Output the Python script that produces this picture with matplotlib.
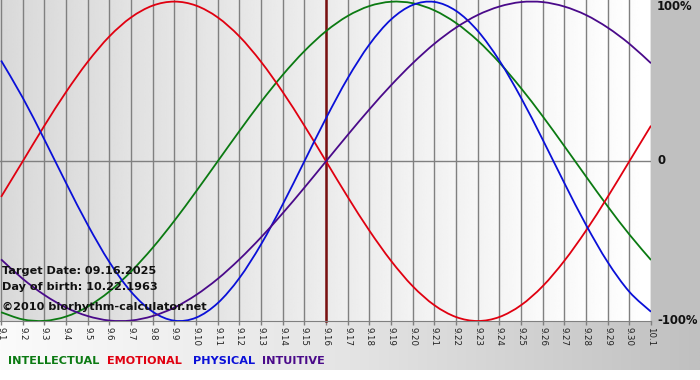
import numpy as np
import matplotlib
matplotlib.use("Agg")
import matplotlib.pyplot as plt
from matplotlib.colors import LinearSegmentedColormap
from matplotlib.path import Path
from matplotlib.patches import PathPatch

# ---- data ----
dates = ["9.1", "9.2", "9.3", "9.4", "9.5", "9.6", "9.7", "9.8", "9.9", "9.10",
         "9.11", "9.12", "9.13", "9.14", "9.15", "9.16", "9.17", "9.18", "9.19", "9.20",
         "9.21", "9.22", "9.23", "9.24", "9.25", "9.26", "9.27", "9.28", "9.29", "9.30", "10.1"]

intellectual = [-0.945, -0.990, -0.999, -0.972, -0.910, -0.815, -0.690, -0.541, -0.372, -0.189,
                0.000, 0.189, 0.372, 0.541, 0.690, 0.815, 0.910, 0.972, 0.999, 0.990,
                0.945, 0.866, 0.756, 0.618, 0.458, 0.282, 0.095, -0.095, -0.282, -0.458, -0.618]

emotional = [-0.223, 0.000, 0.223, 0.434, 0.623, 0.782, 0.901, 0.975, 1.000, 0.975,
             0.901, 0.782, 0.623, 0.434, 0.223, 0.000, -0.223, -0.434, -0.623, -0.782,
             -0.901, -0.975, -1.000, -0.975, -0.901, -0.782, -0.623, -0.434, -0.223, 0.000, 0.223]

physical = [0.631, 0.398, 0.136, -0.136, -0.398, -0.631, -0.817, -0.942, -0.998, -0.979,
            -0.888, -0.731, -0.520, -0.270, 0.000, 0.270, 0.520, 0.731, 0.888, 0.979,
            0.998, 0.942, 0.817, 0.631, 0.398, 0.136, -0.136, -0.398, -0.631, -0.817, -0.942]

intuitive = [-0.614, -0.736, -0.837, -0.916, -0.969, -0.997, -0.997, -0.969, -0.916, -0.837,
             -0.736, -0.614, -0.476, -0.325, -0.165, 0.000, 0.165, 0.325, 0.476, 0.614,
             0.736, 0.837, 0.916, 0.969, 0.997, 0.997, 0.969, 0.916, 0.837, 0.736, 0.614]

target_index = 15  # 9.16
series_names = ["INTELLECTUAL", "EMOTIONAL", "PHYSICAL", "INTUITIVE"]
series_colors = ["#0b7a12", "#e00010", "#0a10d8", "#4a0a8a"]
y_labels = ["100%", "0", "-100%"]


def smooth_path(xv, yv):
    """Catmull-Rom curve through the data points, as cubic Bezier segments."""
    pts = np.column_stack([xv, yv]).astype(float)
    ext = np.vstack([pts[0], pts, pts[-1]])
    verts = [pts[0]]
    codes = [Path.MOVETO]
    for i in range(1, len(ext) - 2):
        p0, p1, p2, p3 = ext[i - 1], ext[i], ext[i + 1], ext[i + 2]
        c1 = p1 + (p2 - p0) / 6.0
        c2 = p2 - (p3 - p1) / 6.0
        verts += [c1, c2, p2]
        codes += [Path.CURVE4] * 3
    return Path(verts, codes)


W, H = 700, 380
fig = plt.figure(figsize=(W / 100, H / 100), dpi=100)
fig.patch.set_facecolor("white")

# background panel (gradient, figure-level)
bg = fig.add_axes([0, 0, 1, 1])
bg.set_xlim(0, W)
bg.set_ylim(H, 0)
bg.axis("off")
grad = np.linspace(0, 1, 256)[None, :]
cm_bottom = LinearSegmentedColormap.from_list("b", ["#fbfbfb", "#e4e4e4", "#c0c0c0"])
bg.imshow(grad, cmap=cm_bottom, extent=[0, W, 370, 321], aspect="auto", zorder=0)
bg.add_patch(plt.Rectangle((651, 0), W - 651, 321, color="#c0c0c0", zorder=1))

# main plot axes
left, right, top, bottom = 0, 651, 0, 321
ax = fig.add_axes([left / W, (H - bottom) / H, (right - left) / W, (bottom - top) / H])
n = len(dates)
x = np.arange(n)
ax.set_xlim(-0.05, n - 1)
ax.set_ylim(-1.0, 1.01)

# plot background: overall gradient with slight per-column shading
xs = np.linspace(-0.05, n - 1, 1400)
frac = xs - np.floor(xs)
vals = 0.845 + 0.145 * (xs / (n - 1)) + 0.018 * frac
img = np.clip(vals, 0, 1)[None, :]
ax.imshow(img, cmap="gray", vmin=0, vmax=1, extent=[-0.05, n - 1, -1.0, 1.01],
          aspect="auto", zorder=0, interpolation="bilinear")

for xi in x:
    ax.axvline(xi, color="#808080", lw=1.0, zorder=1)
ax.axhline(0, color="#808080", lw=1.0, zorder=1)
ax.axvline(target_index, color="#7a1010", lw=1.8, zorder=2, ymin=0, ymax=1, clip_on=False)

for vals_s, col in zip([intellectual, emotional, physical, intuitive], series_colors):
    patch = PathPatch(smooth_path(x, vals_s), facecolor="none", edgecolor=col,
                      lw=1.3, zorder=3, transform=ax.transData)
    ax.add_patch(patch)

for s in ax.spines.values():
    s.set_visible(False)
ax.spines["bottom"].set_visible(True)
ax.spines["bottom"].set_color("#808080")
ax.set_yticks([])
ax.set_xticks(x)
ax.set_xticklabels(dates, rotation=-90, fontsize=6.2, color="#222222")
ax.tick_params(axis="x", length=3, width=1, color="#808080", pad=1.5)

# right-side labels
for lab, yv in zip(y_labels, [1.0, 0.0, -1.0]):
    yp = 161 - 160 * yv
    if lab == "100%":
        yp = 7
    fig.text(657 / W, 1 - yp / H, lab, fontsize=8.4, fontweight="bold",
             color="#111111", va="center", ha="left")

# info text
info = ["Target Date: 09.16.2025", "Day of birth: 10.22.1963", "©2010 biorhythm-calculator.net"]
for t, yp in zip(info, [271, 287, 307]):
    fig.text(2 / W, 1 - yp / H, t, fontsize=8.1, fontweight="bold", color="#111111",
             va="center", ha="left")

# legend
xpos = [8, 107, 193, 262]
for name, col, xp in zip(series_names, series_colors, xpos):
    fig.text(xp / W, 1 - 361 / H, name, fontsize=8.1, fontweight="bold", color=col,
             va="center", ha="left")

fig.savefig("out.png", dpi=100)
